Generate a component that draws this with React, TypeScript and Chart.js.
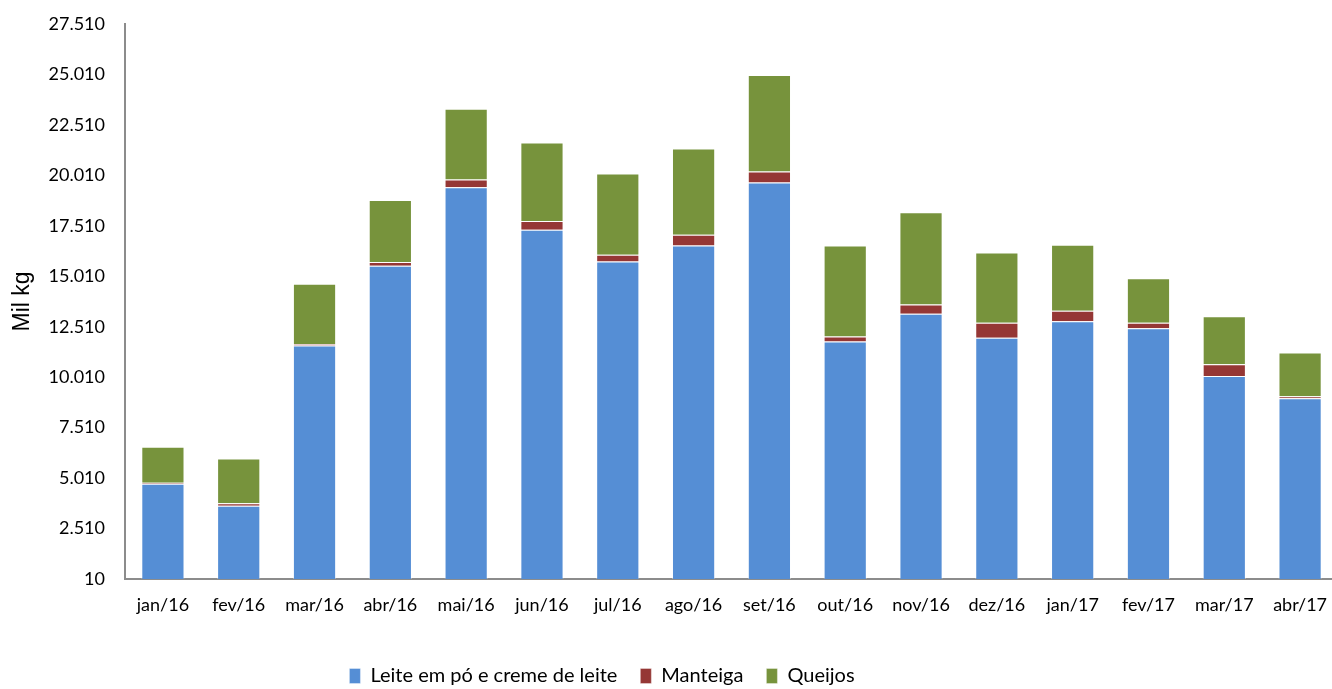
import React, { useEffect, useRef } from "react";
import { Chart, registerables } from "chart.js";

Chart.register(...registerables);

const categories = ["jan/16", "fev/16", "mar/16", "abr/16", "mai/16", "jun/16", "jul/16", "ago/16", "set/16", "out/16", "nov/16", "dez/16", "jan/17", "fev/17", "mar/17", "abr/17"];
const leite = [4726, 3634, 11576, 15533, 19419, 17320, 15747, 16540, 19652, 11775, 13149, 11958, 12783, 12435, 10072, 8960];
const manteiga = [50, 134, 80, 179, 382, 427, 333, 531, 546, 248, 462, 745, 516, 268, 576, 99];
const queijos = [1786, 2214, 2978, 3078, 3505, 3892, 4021, 4269, 4780, 4517, 4567, 3490, 3276, 2214, 2383, 2169];
const yTicks = [10, 2510, 5010, 7510, 10010, 12510, 15010, 17510, 20010, 22510, 25010, 27510];

const fmt = (v: number) => String(v).replace(/\B(?=(\d{3})+(?!\d))/g, ".");

const LEGEND_DX = -67;

export default function App() {
  const ref = useRef<HTMLCanvasElement | null>(null);
  useEffect(() => {
    if (!ref.current) return;
    const shiftLegend = {
      id: "shiftLegend",
      afterLayout(chart: any) {
        const l = chart.legend;
        if (l) {
          l.left += LEGEND_DX;
          l.right += LEGEND_DX;
        }
      },
    };
    const border = "rgba(255,255,255,0.35)";
    const chart = new Chart(ref.current, {
      type: "bar",
      data: {
        labels: categories,
        datasets: [
          { label: "Leite em pó e creme de leite", data: leite, backgroundColor: "#558ED5", borderColor: border, borderWidth: 1 },
          { label: "Manteiga", data: manteiga, backgroundColor: "#953735", borderColor: border, borderWidth: 1 },
          { label: "Queijos", data: queijos, backgroundColor: "#77933C", borderColor: border, borderWidth: 1 },
        ],
      },
      options: {
        animation: false,
        responsive: false,
        maintainAspectRatio: false,
        layout: { padding: { top: 24, right: 7, left: 0, bottom: 0 } },
        datasets: { bar: { categoryPercentage: 1, barPercentage: 0.57 } },
        plugins: {
          tooltip: { enabled: false },
          legend: {
            position: "bottom",
            labels: {
              boxWidth: 11,
              boxHeight: 15,
              padding: 23,
              color: "#000",
              font: { family: "Lato", size: 20 },
            },
          },
        },
        scales: {
          x: {
            stacked: true,
            grid: { display: false, drawTicks: false },
            border: { display: true, color: "#8C8C8C", width: 2 },
            ticks: { color: "#000", font: { family: "Lato", size: 18 }, padding: 15, maxRotation: 0, autoSkip: false },
            afterFit: (s: any) => { s.height = 64; s.paddingLeft = 0; s.paddingRight = 0; },
          },
          y: {
            stacked: true,
            min: 10,
            max: 27510,
            grid: { display: false, drawTicks: false },
            border: { display: true, color: "#8C8C8C", width: 2 },
            ticks: { color: "#000", font: { family: "Lato", size: 18 }, padding: 20, callback: (v: any) => fmt(Number(v)) },
            afterBuildTicks: (s: any) => { s.ticks = yTicks.map((v) => ({ value: v })); },
            afterFit: (s: any) => { s.width = 125; s.paddingTop = 0; s.paddingBottom = 0; },
            title: { display: true, text: "Mil kg", color: "#000", font: { family: "Liberation Sans", size: 23 }, padding: { top: 9, bottom: 0 } },
          },
        },
      },
      plugins: [shiftLegend],
    });
    return () => chart.destroy();
  }, []);
  return (
    <div style={{ position: "fixed", left: 0, top: 0, width: 1332, height: 689, overflow: "hidden", background: "#fff" }}>
      <canvas ref={ref} width={1345} height={696} style={{ display: "block", width: 1345, height: 696 }} />
    </div>
  );
}
